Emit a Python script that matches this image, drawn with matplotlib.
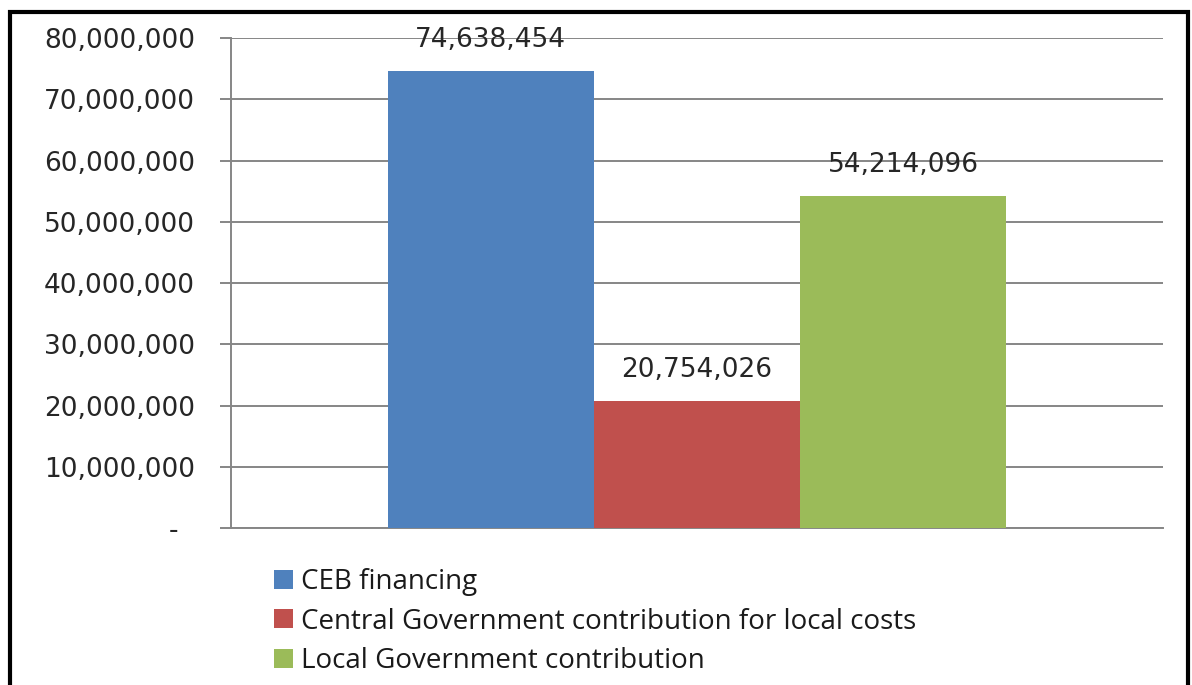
import numpy as np
import matplotlib
matplotlib.use('Agg')
from matplotlib import pyplot as plt
from matplotlib.patches import Rectangle

# funding sources (EUR)
series = ['CEB financing',
          'Central Government contribution for local costs',
          'Local Government contribution']
amounts = [74638454, 20754026, 54214096]
colors = ['#4F81BD', '#C0504D', '#9BBB59']
yticks = [0, 10000000, 20000000, 30000000, 40000000, 50000000, 60000000, 70000000, 80000000]

fig = plt.figure(figsize=(11.92, 6.85), dpi=100)
ax = fig.add_axes([0.1938, 0.2292, 0.7819, 0.7153])

w = 0.664 / 3
offsets = (np.arange(len(amounts)) - 1) * w
bars = []
for off, val, c, name in zip(offsets, amounts, colors, series):
    b = ax.bar(off, val, width=w, color=c, label=name, zorder=3)
    bars.append(b)
    ax.annotate('{:,}'.format(val), (off, val), xytext=(0, 22), textcoords='offset points',
                ha='center', va='center', fontsize=19, color='#262626', family='DejaVu Sans')

ax.set_xlim(-0.5, 0.5)
ax.set_ylim(0, 80000000)
ax.set_yticks(yticks)
ax.set_yticklabels(['-  '] + ['{:,}'.format(t) for t in yticks[1:]])
ax.set_xticks([])
ax.grid(axis='y', color='#868686', linewidth=1.4, zorder=0)
for s in ['top', 'right']:
    ax.spines[s].set_visible(False)
ax.spines['left'].set_color('#868686')
ax.spines['bottom'].set_color('#868686')
ax.spines['left'].set_linewidth(1.4)
ax.spines['bottom'].set_linewidth(1.4)
ax.tick_params(axis='y', direction='out', length=8, width=1.4, color='#868686',
               labelsize=19, labelcolor='#262626', pad=18)

leg = fig.legend(handles=[b[0] for b in bars], labels=series, loc='upper left',
                 bbox_to_anchor=(274 / 1192, 1 - 568 / 685), frameon=False,
                 prop={'family': 'Open Sans', 'size': 20}, handlelength=0.68, handleheight=0.68,
                 handletextpad=0.3, labelspacing=0.42, borderpad=0, borderaxespad=0)
for t in leg.get_texts():
    t.set_color('#1a1a1a')

# outer frame
fig.patches.append(Rectangle((9.5 / 1192, -0.05), 1178 / 1192, 1 - 11.5 / 685 + 0.05,
                             transform=fig.transFigure, fill=False, edgecolor='black',
                             linewidth=3, zorder=10))

fig.savefig('out.png', dpi=100)
